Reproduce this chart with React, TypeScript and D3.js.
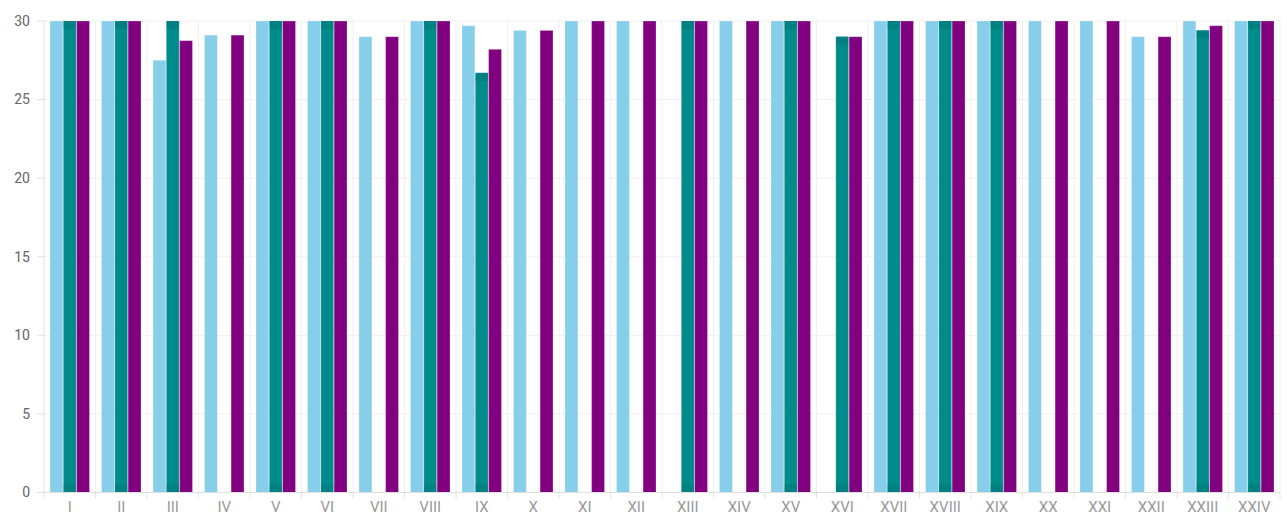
import React from "react";
import * as d3 from "d3";

const categories = ["I","II","III","IV","V","VI","VII","VIII","IX","X","XI","XII","XIII","XIV","XV","XVI","XVII","XVIII","XIX","XX","XXI","XXII","XXIII","XXIV"];
const seriesA = [30,30,27.5,29.1,30,30,29.0,30,29.7,29.4,30,30,0,30,30,0,30,30,30,30,30,29.0,30,30];
const seriesB = [30,30,30,0,30,30,0,30,26.7,0,0,0,30,0,30,29.0,30,30,30,0,0,0,29.4,30];
const seriesC = [30,30,28.75,29.1,30,30,29.0,30,28.2,29.4,30,30,30,30,30,29.0,30,30,30,30,30,29.0,29.7,30];
const yTicks = [0,5,10,15,20,25,30];
const colors = ["#87CEEB", "#008B8B", "#800080"];

export default function App() {
  const W = 1287, H = 518;
  const left = 44, right = 1280, top = 21, bottom = 492.5;
  const x = d3.scaleBand<string>().domain(categories).range([left, right]).paddingInner(0).paddingOuter(0);
  const y = d3.scaleLinear().domain([0, 30]).range([bottom, top]);
  const sub = d3.scaleBand<number>().domain([0,1,2]).range([0, 39.5]).paddingInner(0.03);
  const series = [seriesA, seriesB, seriesC];
  const bw = x.bandwidth();
  const groupOffset = (bw - 39.5) / 2;
  const font = "Roboto, 'Noto Sans', sans-serif";
  return (
    <svg width={W} height={H} style={{ position: "absolute", left: 0, top: 0, display: "block" }}>
      <rect x={0} y={0} width={W} height={H} fill="#fff" />
      {yTicks.map((t) => (
        <g key={"y" + t}>
          <line x1={left} x2={right} y1={y(t)} y2={y(t)} stroke="#f0f0f0" strokeWidth={1} />
          <line x1={left - 7} x2={left} y1={y(t)} y2={y(t)} stroke="#e0e0e0" strokeWidth={1} />
          <text x={left - 14} y={y(t)} dy="0.35em" textAnchor="end" fontSize={14} fill="#666" fontFamily={font}>{t}</text>
        </g>
      ))}
      {categories.map((c, i) => (
        <line key={"vg" + i} x1={(x(c) as number) + bw} x2={(x(c) as number) + bw} y1={top} y2={bottom} stroke="#f0f0f0" strokeWidth={1} />
      ))}
      <line x1={left} x2={left} y1={top} y2={bottom} stroke="#e0e0e0" strokeWidth={1} />
      {categories.map((c, i) =>
        series.map((s, k) => {
          const v = Math.min(s[i], 30);
          if (!v) return null;
          const bx = (x(c) as number) + groupOffset + (sub(k) as number);
          const h = y(0) - y(v);
          return (
            <g key={c + k}>
              <rect x={bx} y={y(v)} width={sub.bandwidth()} height={h} fill={colors[k]} stroke="rgba(255,255,255,0.25)" strokeWidth={1} />
              {k === 1 && (
                <>
                  <rect x={bx + 0.5} y={y(v)} width={sub.bandwidth() - 1} height={Math.min(8, h)} fill="#008080" />
                  <rect x={bx + 0.5} y={bottom - Math.min(8, h)} width={sub.bandwidth() - 1} height={Math.min(8, h)} fill="#008080" />
                </>
              )}
            </g>
          );
        })
      )}
      <line x1={left} x2={right} y1={bottom} y2={bottom} stroke="#e0e0e0" strokeWidth={1} />
      {[left, ...categories.map((c) => (x(c) as number) + bw)].map((px, i) => (
        <line key={"xt" + i} x1={px} x2={px} y1={bottom} y2={bottom + 6} stroke="#e0e0e0" strokeWidth={1} />
      ))}
      {categories.map((c) => (
        <text key={"xl" + c} x={(x(c) as number) + bw / 2} y={bottom + 19.5} textAnchor="middle" fontSize={15} fill="#999" fontFamily={font}>{c}</text>
      ))}
    </svg>
  );
}
